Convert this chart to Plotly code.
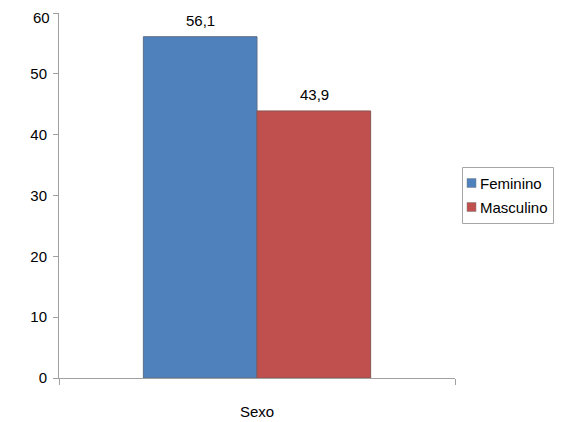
import plotly.graph_objects as go

categories = ["Sexo"]
series_names = ["Feminino", "Masculino"]
values = [56.1, 43.9]
colors = ["#4F81BD", "#C0504D"]
line_colors = ["#5A6E88", "#8A5553"]
y_ticks = [0, 10, 20, 30, 40, 50, 60]

# the page body has an 8px margin, so the figure starts at (8, 8)
OFF = 8
W, H = 572 - OFF, 422 - OFF
ML, MR, MT, MB = 59 - OFF, 117, 13 - OFF, 44
PW, PH = W - ML - MR, H - MT - MB
FONT = "Liberation Sans, Arial, sans-serif"


def px_x(px):
    return (px - OFF - ML) / PW


def px_y(py):
    return (H - MB - (py - OFF)) / PH


fig = go.Figure()
for name, v, c, lc in zip(series_names, values, colors, line_colors):
    fig.add_trace(go.Bar(
        x=categories, y=[v], name=name,
        marker=dict(color=c, line=dict(color=lc, width=1)),
    ))

offsets = [-57, 57]
for v, off in zip(values, offsets):
    fig.add_annotation(
        x=categories[0], y=v, xref="x", yref="y",
        text=f"{v:.1f}".replace(".", ","), showarrow=False,
        xshift=off, yshift=16, yanchor="middle",
        font=dict(family=FONT, size=15, color="#000"),
    )

# top tick label drawn slightly inside the figure (as in the reference)
tick_text = [str(t) for t in y_ticks[:-1]] + [""]
fig.add_annotation(
    x=0, y=y_ticks[-1], xref="paper", yref="y",
    text=str(y_ticks[-1]), showarrow=False,
    xanchor="right", yanchor="middle", xshift=-7, yshift=-4,
    font=dict(family=FONT, size=15, color="#000"),
)

# custom legend (box, swatches, labels)
fig.add_shape(type="rect", xref="paper", yref="paper",
              x0=px_x(462.5), x1=px_x(553.5), y0=px_y(223.5), y1=px_y(167.5),
              line=dict(color="#A6A6A6", width=1), fillcolor="white")
for i, (name, c) in enumerate(zip(series_names, colors)):
    cy = 183 + 24 * i
    fig.add_shape(type="rect", xref="paper", yref="paper",
                  x0=px_x(467), x1=px_x(476), y0=px_y(cy + 4.5), y1=px_y(cy - 4.5),
                  line=dict(color="#7F7F7F", width=0.5), fillcolor=c)
    fig.add_annotation(x=px_x(478), y=px_y(cy), xref="paper", yref="paper",
                       text=name, showarrow=False, xanchor="left", yanchor="middle",
                       font=dict(family=FONT, size=15, color="#000"))

fig.update_layout(
    width=W, height=H,
    margin=dict(l=ML, r=MR, t=MT, b=MB, autoexpand=False),
    paper_bgcolor="white", plot_bgcolor="white",
    barmode="group", bargap=0.426, bargroupgap=0,
    separators=",.",
    font=dict(family=FONT, size=15, color="#000"),
    showlegend=False,
)
fig.update_yaxes(
    range=[0, 60], tickvals=y_ticks, ticktext=tick_text,
    showgrid=False, zeroline=False,
    showline=True, linecolor="#A0A0A0", linewidth=1,
    ticks="outside", ticklen=5, tickcolor="#A0A0A0",
    tickfont=dict(size=15), ticklabelstandoff=3, automargin=False,
)
fig.update_xaxes(
    showgrid=False, showline=True, linecolor="#A0A0A0", linewidth=1,
    ticks="outside", tickson="boundaries", ticklen=6, tickcolor="#A0A0A0",
    tickfont=dict(size=15), ticklabelstandoff=20, automargin=False,
)

fig.write_html("out.html")
